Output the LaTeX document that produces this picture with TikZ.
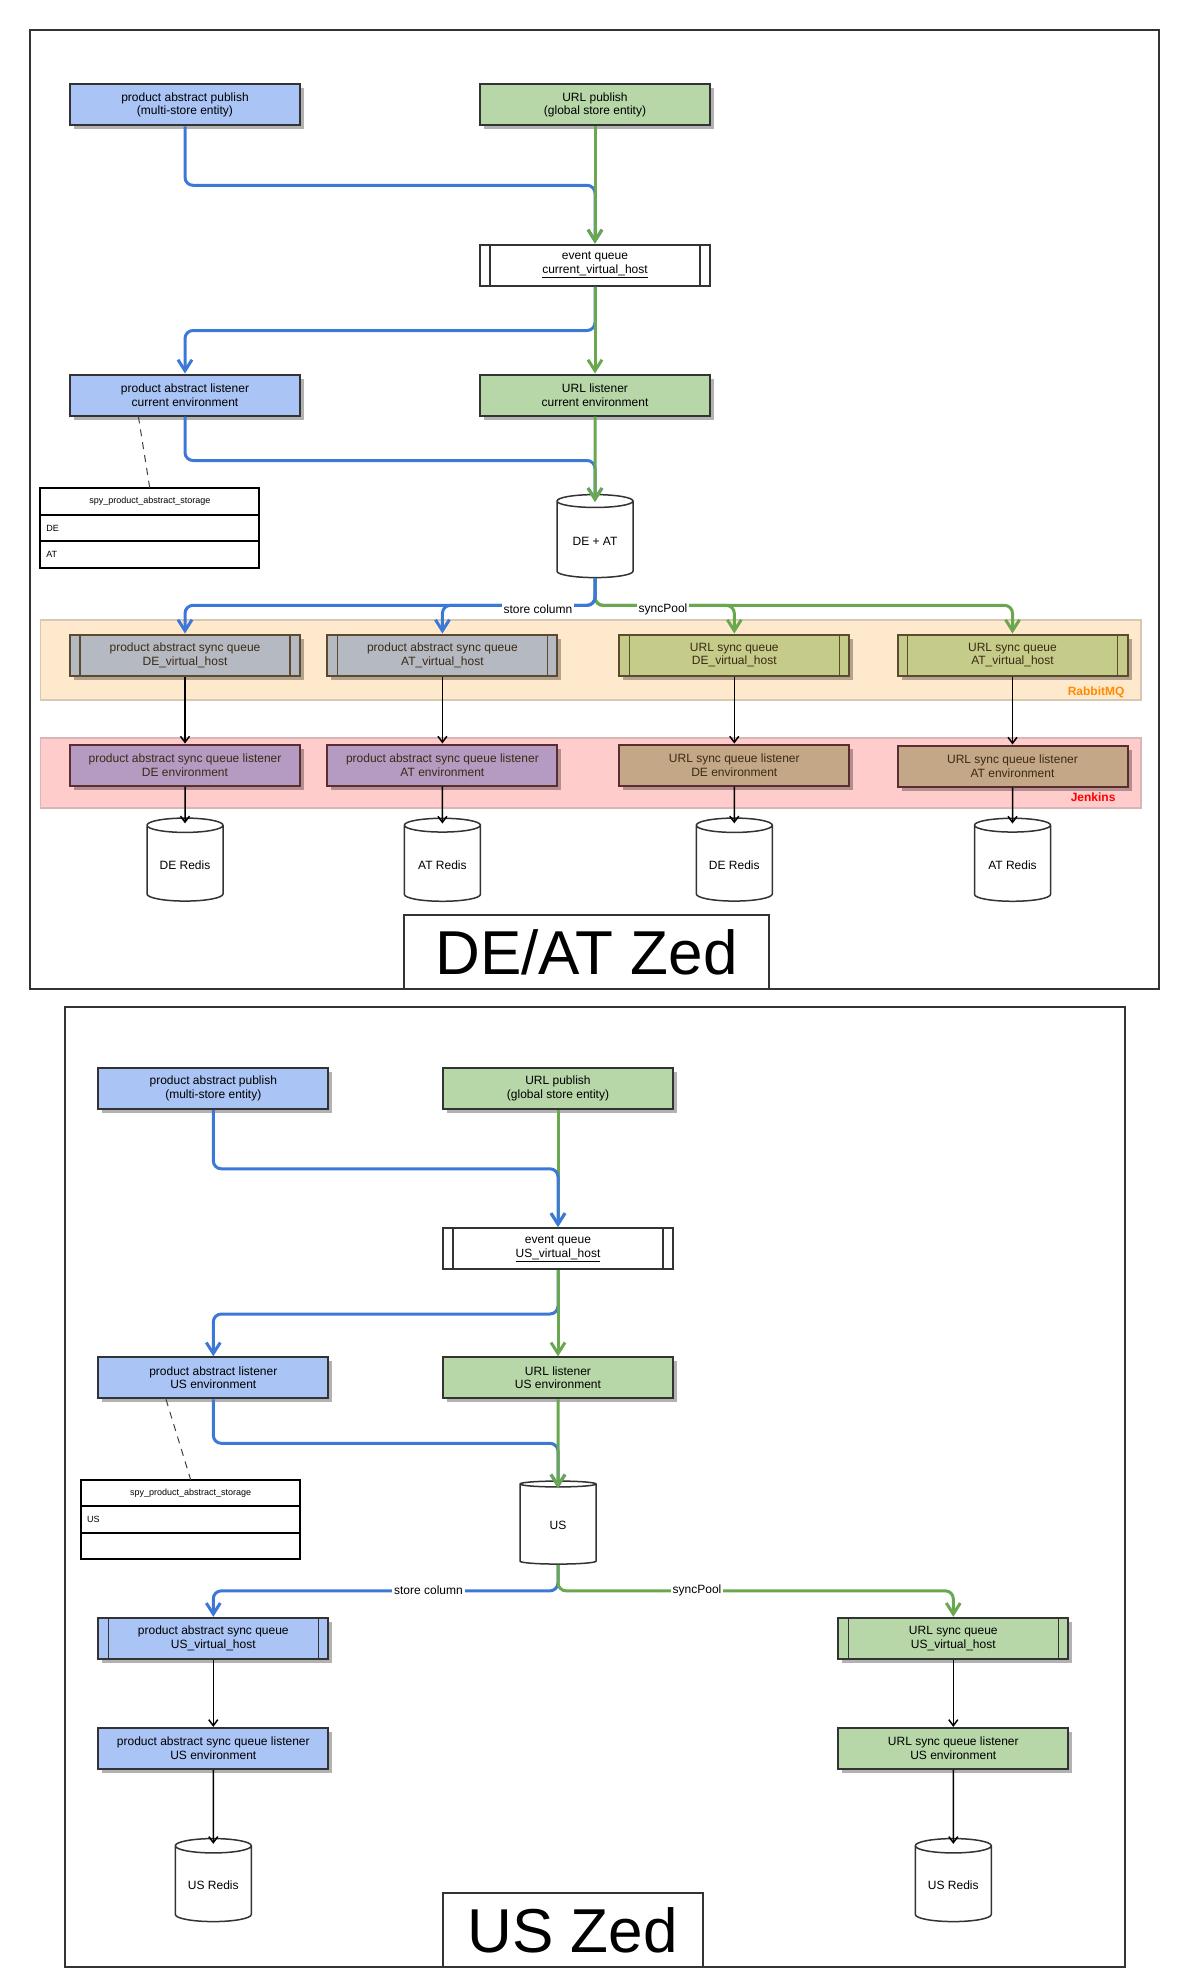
\documentclass[tikz,border=0pt]{standalone}
\usepackage{fontspec}
\setmainfont{Liberation Sans}
\usetikzlibrary{positioning,shapes.geometric,arrows.meta,shadows}

\definecolor{boxline}{HTML}{333333}
\definecolor{pafill}{HTML}{A9C4F5}
\definecolor{urlfill}{HTML}{B7D7A8}
\definecolor{paline}{HTML}{3C78D8}
\definecolor{urlline}{HTML}{6AA84F}
\definecolor{grayq}{HTML}{B5B9C2}
\definecolor{oliveq}{HTML}{C5CB88}
\definecolor{purplel}{HTML}{B59AC2}
\definecolor{tanl}{HTML}{C4A786}
\definecolor{qline}{HTML}{5C4A2E}
\definecolor{lline}{HTML}{5B2C30}
\definecolor{qtext}{HTML}{3B2A14}
\definecolor{rabbitfill}{HTML}{FFE9CC}
\definecolor{rabbitline}{HTML}{D6C8B4}
\definecolor{jenkinsfill}{HTML}{FFCCCC}
\definecolor{jenkinsline}{HTML}{D9B6B6}

\tikzset{
  box/.style={draw=#1,line width=2pt,minimum width=230pt,minimum height=41pt,align=center,inner sep=2pt,font=\fontsize{12}{13.7}\selectfont},
  box/.default=boxline,
  shadowed/.style={drop shadow={shadow xshift=4pt,shadow yshift=-4pt,fill=black,opacity=0.3}},
  queue/.style={path picture={\draw[line width=1.5pt,#1]
      ([xshift=10pt]path picture bounding box.north west) -- ([xshift=10pt]path picture bounding box.south west)
      ([xshift=-10pt]path picture bounding box.north east) -- ([xshift=-10pt]path picture bounding box.south east);}},
  queue/.default=boxline,
  db/.style={cylinder,shape border rotate=90,aspect=0.25,draw=boxline,line width=1.5pt,fill=white,minimum width=76pt,minimum height=83pt,font=\fontsize{12}{14}\selectfont},
  tblcell/.style={draw=black,line width=2pt,outer sep=0pt,minimum height=26.4pt,text width=207pt,inner xsep=6pt,font=\fontsize{9}{10}\selectfont},
  paflow/.style={draw=paline,line width=3pt,rounded corners=8pt,-{Straight Barb[length=11pt,width=14pt]}},
  urlflow/.style={draw=urlline,line width=3pt,rounded corners=8pt,-{Straight Barb[length=11pt,width=14pt]}},
  sync/.style={draw=black,line width=1.5pt,-{Straight Barb[length=6pt,width=9pt]}},
  flowlabel/.style={fill=white,inner sep=2pt,font=\fontsize{12}{14}\selectfont},
  frame/.style={draw=boxline,line width=2pt},
  zed/.style={draw=boxline,line width=2pt,fill=white,minimum height=74pt,font=\fontsize{62}{62}\selectfont},
  bandlabel/.style={font=\bfseries\fontsize{12}{14}\selectfont,anchor=base east}
}

\begin{document}
\begin{tikzpicture}[x=1pt,y=-1pt]
\useasboundingbox (0,0) rectangle (1188,1974);

% DE/AT Zed
\draw[frame] (30.2,30.2) rectangle (1159,989.2);
\draw[fill=rabbitfill,draw=rabbitline,line width=1.5pt] (40.3,620) rectangle (1141,700);
\node[bandlabel,text=orange!90!yellow] (rabbit) at (1128,695) {RabbitMQ};
\draw[fill=jenkinsfill,draw=jenkinsline,line width=1.5pt] (40.3,738) rectangle (1141,808);
\node[bandlabel,text=red] (jenkins) at (1119,801) {Jenkins};

\node[box,fill=pafill,shadowed] (pubPA) at (185,104.8) {product abstract publish\\(multi-store entity)};
\node[box,fill=urlfill,shadowed] (pubURL) at (595,104.8) {URL publish\\(global store entity)};
\node[box,fill=white,queue] (evq) at (595,265) {event queue\\\underline{current\_virtual\_host}};
\node[box,fill=pafill,shadowed] (lisPA) at (185,395) {product abstract listener\\current environment};
\node[box,fill=urlfill,shadowed] (lisURL) at (595,395) {URL listener\\current environment};

\node[tblcell,align=center] (tblPA) at (149.8,501.5) {spy\_product\_abstract\_storage};
\node[tblcell,below=0pt of tblPA] (tblDE) {DE};
\node[tblcell,below=0pt of tblDE] (tblAT) {AT};
\draw[dash pattern=on 7pt off 6pt,line width=1pt,draw=black!75] ([xshift=-46.6pt]lisPA.south) -- (tblPA.north);

\node[db] (dbDEAT) at (595,541) {DE + AT};

\node[box=qline,fill=grayq,queue=qline,shadowed,text=qtext] (sqPAde) at (185,655) {product abstract sync queue\\DE\_virtual\_host};
\node[box=qline,fill=grayq,queue=qline,shadowed,text=qtext] (sqPAat) at (442.4,655) {product abstract sync queue\\AT\_virtual\_host};
\node[box=qline,fill=oliveq,queue=qline,shadowed,text=qtext] (sqURLde) at (734.3,655) {URL sync queue\\DE\_virtual\_host};
\node[box=qline,fill=oliveq,queue=qline,shadowed,text=qtext] (sqURLat) at (1012.5,655) {URL sync queue\\AT\_virtual\_host};

\node[box=lline,fill=purplel,shadowed,text=qtext] (lsPAde) at (185,765) {product abstract sync queue listener\\DE environment};
\node[box=lline,fill=purplel,shadowed,text=qtext] (lsPAat) at (442.4,765) {product abstract sync queue listener\\AT environment};
\node[box=lline,fill=tanl,shadowed,text=qtext] (lsURLde) at (734.3,765) {URL sync queue listener\\DE environment};
\node[box=lline,fill=tanl,shadowed,text=qtext] (lsURLat) at (1012.5,766) {URL sync queue listener\\AT environment};

\node[db] (rdPAde) at (185,865) {DE Redis};
\node[db] (rdPAat) at (442.4,865) {AT Redis};
\node[db] (rdURLde) at (734.3,865) {DE Redis};
\node[db] (rdURLat) at (1012.5,865) {AT Redis};

\node[zed,minimum width=365pt] (zedDEAT) at (586.5,952.2) {DE/AT Zed};

\draw[paflow] (pubPA.south) -- ++(0,59) -| (evq.north);
\draw[urlflow] (pubURL.south) -- (evq.north);
\draw[paflow] (evq.south) -- ++(0,44) -| (lisPA.north);
\draw[urlflow] (evq.south) -- (lisURL.north);
\draw[paflow,shorten >=-8pt] (lisPA.south) -- ++(0,44) -| (dbDEAT.north);
\draw[urlflow,shorten >=-8pt] (lisURL.south) -- (dbDEAT.north);
\draw[urlflow] (dbDEAT.south) -- ++(0,27) -| (sqURLde.north);
\draw[urlflow] (dbDEAT.south) -- ++(0,27) -| (sqURLat.north);
\draw[paflow] (dbDEAT.south) -- ++(0,27) -| (sqPAde.north);
\draw[paflow] (dbDEAT.south) -- ++(0,27) -| (sqPAat.north);
\node[flowlabel] (lblstore) at (538,609) {store column};
\node[flowlabel] (lblsync) at (663,609) {syncPool};

\draw[sync] (sqPAde) -- (lsPAde);
\draw[sync] (sqPAat) -- (lsPAat);
\draw[sync] (sqURLde) -- (lsURLde);
\draw[sync] (sqURLat) -- (lsURLat);
\draw[sync,shorten >=-6pt] (lsPAde) -- (rdPAde.north);
\draw[sync,shorten >=-6pt] (lsPAat) -- (rdPAat.north);
\draw[sync,shorten >=-6pt] (lsURLde) -- (rdURLde.north);
\draw[sync,shorten >=-6pt] (lsURLat) -- (rdURLat.north);

% US Zed
\draw[frame] (65.4,1006.8) rectangle (1125,1967);

\node[box,fill=pafill,shadowed] (pubPAus) at (213.3,1088.3) {product abstract publish\\(multi-store entity)};
\node[box,fill=urlfill,shadowed] (pubURLus) at (558,1088.3) {URL publish\\(global store entity)};
\node[box,fill=white,queue] (evqus) at (558,1248.5) {event queue\\\underline{US\_virtual\_host}};
\node[box,fill=pafill,shadowed] (lisPAus) at (213.3,1377.8) {product abstract listener\\US environment};
\node[box,fill=urlfill,shadowed] (lisURLus) at (558,1377.8) {URL listener\\US environment};

\node[tblcell,align=center] (tblPAus) at (190.7,1493) {spy\_product\_abstract\_storage};
\node[tblcell,below=0pt of tblPAus] (tblUS) {US};
\node[tblcell,below=0pt of tblUS] (tblnone) {};
\draw[dash pattern=on 7pt off 6pt,line width=1pt,draw=black!75] ([xshift=-47.3pt]lisPAus.south) -- (tblPAus.north);

\node[db] (dbUS) at (558,1525) {US};

\node[box,fill=pafill,queue,shadowed] (sqPAus) at (213.3,1638.3) {product abstract sync queue\\US\_virtual\_host};
\node[box,fill=urlfill,queue,shadowed] (sqURLus) at (953.3,1638.3) {URL sync queue\\US\_virtual\_host};
\node[box,fill=pafill,shadowed] (lsPAus) at (213.3,1748.4) {product abstract sync queue listener\\US environment};
\node[box,fill=urlfill,shadowed] (lsURLus) at (953.3,1748.4) {URL sync queue listener\\US environment};

\node[db] (rdPAus) at (213.3,1885.5) {US Redis};
\node[db] (rdURLus) at (953.3,1885.5) {US Redis};

\node[zed,minimum width=260pt] (zedUS) at (572.7,1930) {US Zed};

\draw[urlflow] (pubURLus.south) -- (evqus.north);
\draw[paflow] (pubPAus.south) -- ++(0,59) -| (evqus.north);
\draw[paflow] (evqus.south) -- ++(0,44) -| (lisPAus.north);
\draw[urlflow] (evqus.south) -- (lisURLus.north);
\draw[paflow,shorten >=-8pt] (lisPAus.south) -- ++(0,44) -| (dbUS.north);
\draw[urlflow,shorten >=-8pt] (lisURLus.south) -- (dbUS.north);
\draw[paflow] (dbUS.south) -- ++(0,26) -| (sqPAus.north);
\draw[urlflow] (dbUS.south) -- ++(0,26) -| (sqURLus.north);
\node[flowlabel] (lblstoreus) at (428.5,1590.5) {store column};
\node[flowlabel] (lblsyncus) at (697,1590.5) {syncPool};

\draw[sync] (sqPAus) -- (lsPAus);
\draw[sync] (sqURLus) -- (lsURLus);
\draw[sync,shorten >=-6pt] (lsPAus) -- (rdPAus.north);
\draw[sync,shorten >=-6pt] (lsURLus) -- (rdURLus.north);
\end{tikzpicture}
\end{document}
